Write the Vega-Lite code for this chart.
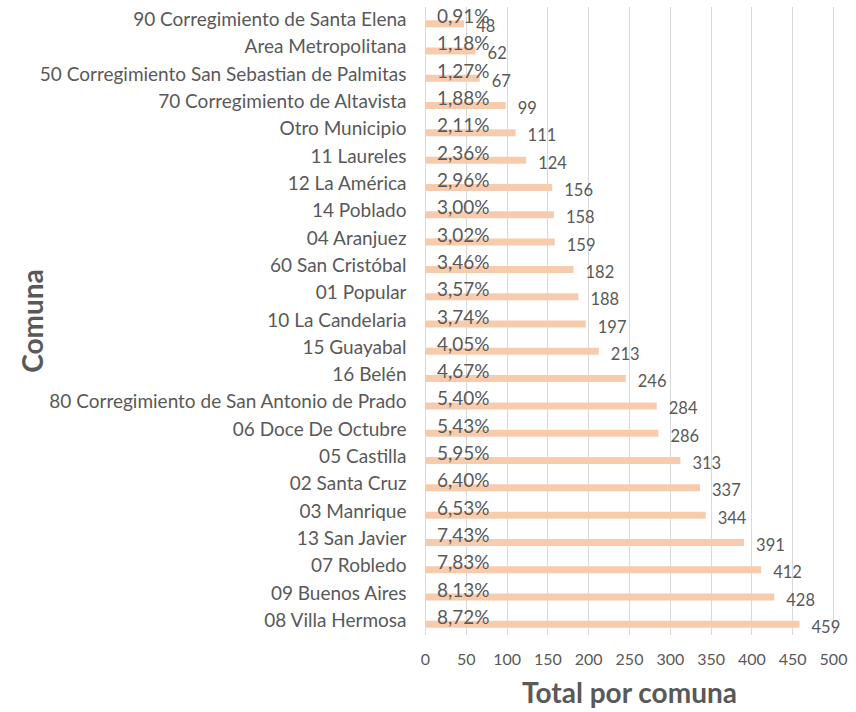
{
  "$schema": "https://vega.github.io/schema/vega-lite/v6.json",
  "autosize": "none",
  "width": 408,
  "height": 628,
  "padding": {"left": 425, "top": 6.5, "right": 23, "bottom": 77.5},
  "background": "white",
  "config": {
    "view": {"stroke": null},
    "font": "Lato",
    "axis": {"labelFont": "Lato", "titleFont": "Lato", "labelColor": "#595959", "titleColor": "#595959"}
  },
  "data": {
    "values": [
      {"comuna": "90 Corregimiento de Santa Elena", "total": 48, "pct": "0,91%"},
      {"comuna": "Area Metropolitana", "total": 62, "pct": "1,18%"},
      {"comuna": "50 Corregimiento San Sebastian de Palmitas", "total": 67, "pct": "1,27%"},
      {"comuna": "70 Corregimiento de Altavista", "total": 99, "pct": "1,88%"},
      {"comuna": "Otro Municipio", "total": 111, "pct": "2,11%"},
      {"comuna": "11 Laureles", "total": 124, "pct": "2,36%"},
      {"comuna": "12 La América", "total": 156, "pct": "2,96%"},
      {"comuna": "14 Poblado", "total": 158, "pct": "3,00%"},
      {"comuna": "04 Aranjuez", "total": 159, "pct": "3,02%"},
      {"comuna": "60 San  Cristóbal", "total": 182, "pct": "3,46%"},
      {"comuna": "01 Popular", "total": 188, "pct": "3,57%"},
      {"comuna": "10 La Candelaria", "total": 197, "pct": "3,74%"},
      {"comuna": "15 Guayabal", "total": 213, "pct": "4,05%"},
      {"comuna": "16 Belén", "total": 246, "pct": "4,67%"},
      {"comuna": "80 Corregimiento de San Antonio de Prado", "total": 284, "pct": "5,40%"},
      {"comuna": "06 Doce De Octubre", "total": 286, "pct": "5,43%"},
      {"comuna": "05 Castilla", "total": 313, "pct": "5,95%"},
      {"comuna": "02 Santa Cruz", "total": 337, "pct": "6,40%"},
      {"comuna": "03 Manrique", "total": 344, "pct": "6,53%"},
      {"comuna": "13 San Javier", "total": 391, "pct": "7,43%"},
      {"comuna": "07 Robledo", "total": 412, "pct": "7,83%"},
      {"comuna": "09 Buenos Aires", "total": 428, "pct": "8,13%"},
      {"comuna": "08 Villa Hermosa", "total": 459, "pct": "8,72%"}
    ]
  },
  "encoding": {
    "y": {
      "field": "comuna",
      "type": "nominal",
      "sort": null,
      "scale": {"paddingInner": 0, "paddingOuter": 0},
      "axis": {
        "title": "Comuna",
        "titleFontSize": 28,
        "titleFontWeight": "bold",
        "titleAngle": -90,
        "titleBaseline": "alphabetic",
        "titleAlign": "center",
        "titleX": -383,
        "titleY": 314,
        "labelFontSize": 19,
        "labelPadding": 19,
        "labelLimit": 500,
        "labelOverlap": false,
        "ticks": false,
        "domain": true,
        "domainColor": "#D9D9D9",
        "domainWidth": 1,
        "grid": false
      }
    }
  },
  "layer": [
    {
      "mark": {"type": "bar", "color": "#F8CBAD", "size": 7, "yOffset": 3.5},
      "encoding": {
        "x": {
          "field": "total",
          "type": "quantitative",
          "scale": {"domain": [0, 500], "nice": false},
          "axis": {
            "title": "Total por comuna",
            "titleFontSize": 28,
            "titleFontWeight": "bold",
            "titleBaseline": "alphabetic",
            "titleY": 68,
            "values": [0, 50, 100, 150, 200, 250, 300, 350, 400, 450, 500],
            "labelFontSize": 16,
            "labelBaseline": "alphabetic",
            "labelPadding": 30,
            "labelOverlap": false,
            "labelBound": false,
            "labelFlush": false,
            "ticks": false,
            "domain": false,
            "grid": true,
            "gridColor": "#D9D9D9",
            "gridWidth": 1
          }
        }
      }
    },
    {
      "mark": {"type": "text", "align": "left", "baseline": "alphabetic", "dx": 12, "dy": 3, "fontSize": 19, "color": "#595959", "font": "Lato"},
      "encoding": {
        "x": {"datum": 0, "type": "quantitative"},
        "text": {"field": "pct"}
      }
    },
    {
      "mark": {"type": "text", "align": "left", "baseline": "alphabetic", "dx": 12, "dy": 12, "fontSize": 16.5, "color": "#595959", "font": "Lato"},
      "encoding": {
        "x": {"field": "total", "type": "quantitative"},
        "text": {"field": "total"}
      }
    }
  ]
}
